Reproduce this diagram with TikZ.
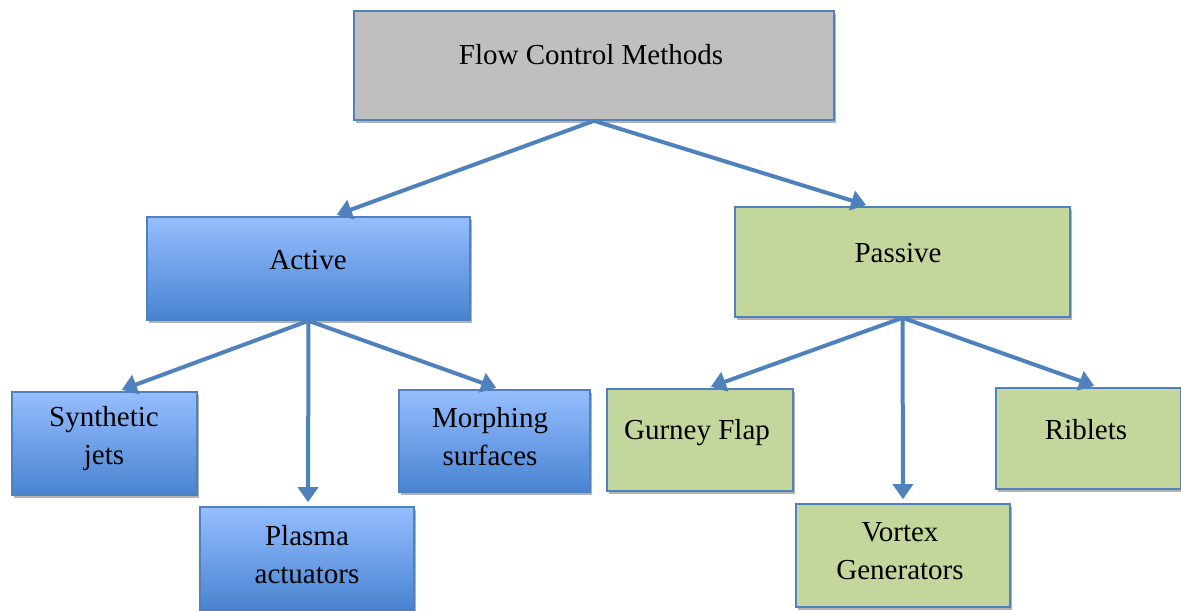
\documentclass[tikz,border=0pt]{standalone}
\usepackage{fontspec}
\setmainfont{Liberation Serif}
\usetikzlibrary{calc,arrows.meta,shadows}
\definecolor{edgeblue}{HTML}{4F81BD}
\definecolor{actTop}{HTML}{95BEFF}
\definecolor{actBot}{HTML}{4883D0}
\definecolor{pasGreen}{HTML}{C3D69B}
\definecolor{headGray}{HTML}{BFBFBF}

\begin{document}
\begin{tikzpicture}[x=0.5pt,y=-0.5pt,font=\fontsize{14.5}{19}\selectfont,
  box/.style={draw=edgeblue,line width=0.8pt,inner sep=0pt,
    drop shadow={shadow xshift=1.2pt,shadow yshift=-1.4pt,opacity=0.3,fill=black}},
  headbox/.style={box,fill=headGray},
  actbox/.style={box,top color=actTop,middle color=actTop!75!actBot,bottom color=actBot},
  pasbox/.style={box,fill=pasGreen},
  lbl/.style={inner sep=0pt,align=center},
  arr/.style={draw=edgeblue,line width=2pt,-{Triangle[length=7.5pt,width=10pt]},shorten >=2pt}]
\useasboundingbox (0,0) rectangle (1181,610);
% boxes
\node[headbox,minimum width=240pt,minimum height=54.5pt] (top) at (594,65.5) {};
\node[actbox,minimum width=161.5pt,minimum height=51.5pt] (active) at (308.5,268.5) {};
\node[pasbox,minimum width=167.5pt,minimum height=55pt] (passive) at (902.5,262) {};
\node[actbox,minimum width=92.5pt,minimum height=51.5pt] (synth) at (104.5,443.5) {};
\node[actbox,minimum width=107pt,minimum height=51.5pt] (plasma) at (307,558.5) {};
\node[actbox,minimum width=95.5pt,minimum height=51pt] (morph) at (494.5,441) {};
\node[pasbox,minimum width=93pt,minimum height=51pt] (gurney) at (700,440) {};
\node[pasbox,minimum width=107pt,minimum height=51.5pt] (vortex) at (903,555.5) {};
\node[pasbox,minimum width=92.5pt,minimum height=50.5pt] (riblets) at (1088.5,438.5) {};
% texts
\node[lbl] (ttop) at (591,55) {Flow Control Methods};
\node[lbl] (tactive) at (308,260) {Active};
\node[lbl] (tpassive) at (898,253) {Passive};
\node[lbl] (tsynth) at (104,439) {Synthetic\\jets};
\node[lbl] (tplasma) at (307,554.5) {Plasma\\actuators};
\node[lbl] (tmorph) at (490,436.5) {Morphing\\surfaces};
\node[lbl] (tgurney) at (697,433) {Gurney Flap};
\node[lbl] (tvortex) at (900,551) {Vortex\\Generators};
\node[lbl] (triblets) at (1086,430) {Riblets};
% arrows
\draw[arr] (top.south) -- ($(active.north)+(24.5,0)$);
\draw[arr] (top.south) -- ($(passive.north)+(-32.5,0)$);
\draw[arr] (active.south) -- ($(synth.north)+(13.5,0)$);
\draw[arr] (active.south) -- ($(plasma.north)+(1,0)$);
\draw[arr] (active.south) -- ($(morph.north)+(5.5,0)$);
\draw[arr] (passive.south) -- ($(gurney.north)+(7,0)$);
\draw[arr] (passive.south) -- (vortex.north);
\draw[arr] (passive.south) -- ($(riblets.north)+(9.5,0)$);
\end{tikzpicture}
\end{document}
